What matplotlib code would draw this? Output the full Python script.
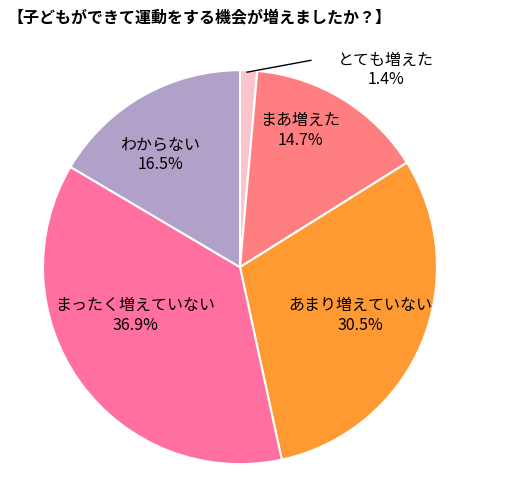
import matplotlib.pyplot as plt

plt.rcParams['font.family'] = ['Noto Sans CJK JP', 'DejaVu Sans']

labels = ['とても増えた', 'まあ増えた', 'あまり増えていない', 'まったく増えていない', 'わからない']
values = [1.4, 14.7, 30.5, 36.9, 16.5]
colors = ['#F9C4CC', '#FF7F80', '#FF9A33', '#FF6F9F', '#B1A0C8']

fig = plt.figure(figsize=(5.09, 4.84), dpi=100)
ax = fig.add_axes([0.0845, 0.041, 0.774, 0.814])
ax.pie(values, colors=colors, startangle=90, counterclock=False,
       wedgeprops=dict(edgecolor='white', linewidth=1.5))
ax.set_xlim(-1, 1)
ax.set_ylim(-1, 1)

# label positions in axes data units
pos = [(0.74, 1.0), (0.305, 0.695), (0.609, -0.244), (-0.533, -0.244), (-0.406, 0.569)]
for lab, v, (x, y) in zip(labels, values, pos):
    ax.text(x, y, f'{lab}\n{v}%', ha='center', va='center', fontsize=11.5,
            linespacing=1.2, clip_on=False)
ax.plot([0.036, 0.36], [0.99, 1.05], color='black', lw=1, clip_on=False)

fig.text(0.015, 0.965, '【子どもができて運動をする機会が増えましたか？】',
         fontsize=11.5, fontweight='bold', va='center', ha='left')

fig.savefig('out.png', dpi=100)
